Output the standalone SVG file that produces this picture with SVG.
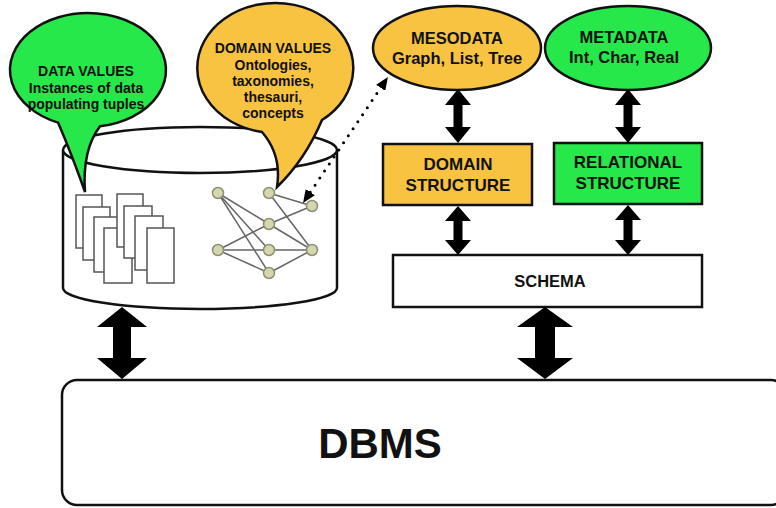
<svg xmlns="http://www.w3.org/2000/svg" width="776" height="508" viewBox="0 0 776 508">
  <defs>
    <style>
      .shape { stroke: #111; stroke-width: 2.5; }
      .green { fill: #26e84a; }
      .yellow { fill: #f9c342; }
      .white { fill: #fff; }
      .doc { fill: #fff; stroke: #555; stroke-width: 1.5; }
      .edge { stroke: #666; stroke-width: 1.5; fill: none; }
      .gnode { fill: #d3d6ae; stroke: #8c9070; stroke-width: 1.5; }
      .dbl { fill: #000; }
      .txt { font-family: "Liberation Sans", Arial, sans-serif; font-weight: bold; fill: #111; text-anchor: middle; }
      .t14 { font-size: 14px; }
      .t17 { font-size: 17px; }
      .t16 { font-size: 16.5px; }
    </style>
    <marker id="head" viewBox="0 0 13 11" refX="0" refY="5.5" markerWidth="13" markerHeight="11" markerUnits="userSpaceOnUse" orient="auto-start-reverse">
      <path d="M0,0 L13,5.5 L0,11 z" fill="#000"/>
    </marker>
  </defs>

  <!-- database cylinder holding data values and domain values -->
  <g id="database">
    <path class="shape white" d="M63,152 L63,288 A137,21 0 0 0 337,288 L337,152 Z"/>
    <ellipse class="shape white" cx="200" cy="150" rx="137" ry="23"/>
    <!-- stacked tuple pages -->
    <g id="tuples">
      <rect class="doc" x="76" y="195" width="26" height="53"/>
      <rect class="doc" x="83" y="207" width="27" height="53"/>
      <rect class="doc" x="94" y="217" width="28" height="55"/>
      <rect class="doc" x="104" y="228" width="28" height="55"/>
      <rect class="doc" x="117" y="194" width="26" height="53"/>
      <rect class="doc" x="124" y="206" width="28" height="52"/>
      <rect class="doc" x="135" y="216" width="28" height="54"/>
      <rect class="doc" x="147" y="228" width="27" height="55"/>
    </g>
    <!-- concept graph -->
    <g id="concept-graph">
      <line class="edge" x1="218" y1="193" x2="269" y2="224"/>
      <line class="edge" x1="218" y1="193" x2="269" y2="250"/>
      <line class="edge" x1="218" y1="193" x2="269" y2="273"/>
      <line class="edge" x1="269" y1="193" x2="312" y2="206"/>
      <line class="edge" x1="269" y1="193" x2="312" y2="250"/>
      <line class="edge" x1="218" y1="250" x2="269" y2="224"/>
      <line class="edge" x1="269" y1="224" x2="312" y2="206"/>
      <line class="edge" x1="269" y1="224" x2="312" y2="250"/>
      <line class="edge" x1="218" y1="250" x2="312" y2="250"/>
      <line class="edge" x1="218" y1="250" x2="269" y2="273"/>
      <line class="edge" x1="269" y1="273" x2="312" y2="250"/>
      <circle class="gnode" cx="218" cy="193" r="5.5"/>
      <circle class="gnode" cx="269" cy="193" r="5.5"/>
      <circle class="gnode" cx="312" cy="206" r="5.5"/>
      <circle class="gnode" cx="269" cy="224" r="5.5"/>
      <circle class="gnode" cx="218" cy="250" r="5.5"/>
      <circle class="gnode" cx="269" cy="250" r="5.5"/>
      <circle class="gnode" cx="312" cy="250" r="5.5"/>
      <circle class="gnode" cx="269" cy="273" r="5.5"/>
    </g>
  </g>

  <!-- speech bubble: data values -->
  <g id="data-values">
    <path class="shape green" d="M58,122.6 A78,57 0 1 1 100,126.3 Q 82,150 85,192 Q 70,150 58,122.6 Z"/>
    <text class="txt t14" x="86" y="76">DATA VALUES</text>
    <text class="txt t14" x="86" y="93">Instances of data</text>
    <text class="txt t14" x="86" y="109">populating tuples</text>
  </g>

  <!-- speech bubble: domain values -->
  <g id="domain-values">
    <path class="shape yellow" d="M262,132 A78,65 0 1 1 322,120 Q 305,160 277,187 Q 282,155 262,132 Z"/>
    <text class="txt t14" x="273" y="53">DOMAIN VALUES</text>
    <text class="txt t14" x="273" y="70">Ontologies,</text>
    <text class="txt t14" x="273" y="86">taxonomies,</text>
    <text class="txt t14" x="273" y="102">thesauri,</text>
    <text class="txt t14" x="273" y="118">concepts</text>
  </g>

  <g id="mesodata">
    <ellipse class="shape yellow" cx="457" cy="48" rx="84" ry="42"/>
    <text class="txt t16" x="457" y="44">MESODATA</text>
    <text class="txt t16" x="457" y="64">Graph, List, Tree</text>
  </g>

  <g id="metadata">
    <ellipse class="shape green" cx="628" cy="48" rx="83" ry="42"/>
    <text class="txt t16" x="624" y="43">METADATA</text>
    <text class="txt t16" x="624" y="63">Int, Char, Real</text>
  </g>

  <g id="domain-structure">
    <rect class="shape yellow" x="383" y="144" width="149" height="61"/>
    <text class="txt t17" x="458" y="170">DOMAIN</text>
    <text class="txt t17" x="458" y="191">STRUCTURE</text>
  </g>

  <g id="relational-structure">
    <rect class="shape green" x="554" y="143" width="148" height="61"/>
    <text class="txt t17" x="628" y="168">RELATIONAL</text>
    <text class="txt t17" x="628" y="189">STRUCTURE</text>
  </g>

  <g id="schema">
    <rect class="shape white" x="393" y="255" width="309" height="52"/>
    <text class="txt" font-size="16.5" x="550" y="287">SCHEMA</text>
  </g>

  <g id="dbms">
    <rect class="shape white" x="62" y="380" width="724" height="125" rx="15"/>
    <text class="txt" font-size="42" x="380" y="458">DBMS</text>
  </g>

  <!-- connectors -->
  <g id="connectors">
    <polygon class="dbl" points="458,89 471,105 462.5,105 462.5,127 471,127 458,143 445,127 453.5,127 453.5,105 445,105"/>
    <polygon class="dbl" points="628,89 641,105 632.5,105 632.5,127 641,127 628,143 615,127 623.5,127 623.5,105 615,105"/>
    <polygon class="dbl" points="458,206 471,221 462.5,221 462.5,240 471,240 458,255 445,240 453.5,240 453.5,221 445,221"/>
    <polygon class="dbl" points="628,205 641,220 632.5,220 632.5,240 641,240 628,255 615,240 623.5,240 623.5,220 615,220"/>
    <polygon class="dbl" points="122,307 147,327 131,327 131,358 147,358 122,379 97,358 113,358 113,327 97,327"/>
    <polygon class="dbl" points="545,307 573,327 555,327 555,358 573,358 545,379 517,358 535,358 535,327 517,327"/>
    <line x1="310.3" y1="192.2" x2="380.7" y2="87.8" stroke="#000" stroke-width="3" stroke-linecap="round" stroke-dasharray="0 8.5" marker-start="url(#head)" marker-end="url(#head)"/>
  </g>
</svg>
